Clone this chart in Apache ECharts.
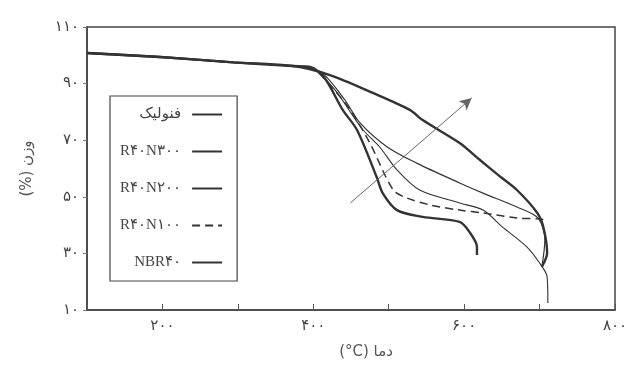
<!DOCTYPE html>
<html>
<head>
<meta charset="utf-8">
<script src="https://cdn.jsdelivr.net/npm/echarts@6/dist/echarts.min.js"></script>
<style>
  html, body { margin: 0; padding: 0; background: #fff; }
  #main { width: 636px; height: 366px; }
</style>
</head>
<body>
<div id="main"></div>
<script>
// TGA curves: [temperature (C), weight (%)]
var phenolic = [[100, 100.8], [197, 99.4], [294, 97.5], [373, 96.2], [422, 93.0], [479, 86.7],
  [528, 80.7], [545, 77.1], [594, 69.0], [621, 63.0], [647, 57.3], [670, 52.4], [697, 44.3],
  [705, 39.3], [710, 30.1], [703, 25.2]];
var r40n300 = [[100, 100.8], [197, 99.4], [294, 97.5], [373, 96.2], [396, 95.5], [415, 93.0],
  [442, 84.2], [462, 76.1], [498, 67.6], [537, 61.9], [594, 54.9], [625, 51.3], [670, 46.4],
  [698, 42.5], [707, 34.7], [703, 25.2]];
var r40n200 = [[100, 100.8], [197, 99.4], [294, 97.5], [373, 96.2], [402, 94.8], [429, 87.7],
  [449, 80.0], [466, 73.6], [488, 67.6], [511, 59.5], [541, 52.4], [594, 47.8], [625, 45.3],
  [651, 39.3], [683, 32.3], [700, 26.6], [710, 21.7], [711, 12.5]];
var r40n100 = [[100, 100.8], [197, 99.4], [294, 97.5], [373, 96.2], [398, 95.5], [422, 89.5],
  [449, 80.7], [475, 69.0], [506, 52.4], [524, 49.6], [555, 47.1], [594, 45.3], [625, 44.3],
  [670, 42.5], [700, 42.2], [707, 41.8]];
var nbr40 = [[100, 100.8], [197, 99.4], [294, 97.5], [373, 96.2], [396, 95.9], [415, 92.0],
  [439, 80.7], [458, 73.6], [484, 57.0], [492, 51.3], [511, 45.3], [545, 42.9], [594, 41.1],
  [608, 37.2], [617, 32.3], [617, 29.4]];

var seriesNames = ['فنولیک', 'R۴۰N۳۰۰', 'R۴۰N۲۰۰', 'R۴۰N۱۰۰', 'NBR۴۰'];
var arrowFrom = [449, 47.8];
var arrowTo = [610, 84.9];

var xMin = 100, xMax = 800, xStep = 100;
var yMin = 10, yMax = 110, yStep = 20;

var faDigits = '۰۱۲۳۴۵۶۷۸۹';
function toFa(n) {
  return String(n).replace(/[0-9]/g, function (d) { return faDigits[+d]; });
}

var chart = echarts.init(document.getElementById('main'));
var ink = '#333';

function curve(name, data, width, type) {
  return {
    name: name,
    type: 'line',
    data: data,
    symbol: 'none',
    showSymbol: false,
    smooth: 0.3,
    lineStyle: { color: ink, width: width, type: type || 'solid' },
    itemStyle: { color: ink }
  };
}

var series = [
  curve(seriesNames[0], phenolic, 2.4),
  curve(seriesNames[1], r40n300, 1.2),
  curve(seriesNames[2], r40n200, 1.1),
  curve(seriesNames[3], r40n100, 1.5, [8, 5]),
  curve(seriesNames[4], nbr40, 2.4)
];
series[0].markLine = {
  silent: true,
  symbol: ['none', 'arrow'],
  symbolSize: [9, 12],
  label: { show: false },
  lineStyle: { color: '#666', width: 1, type: 'solid' },
  data: [[{ coord: arrowFrom }, { coord: arrowTo }]]
};

chart.setOption({
  backgroundColor: '#fff',
  animation: false,
  textStyle: { fontFamily: 'DejaVu Sans' },
  grid: {
    left: 87, right: 21, top: 27, bottom: 56,
    show: true, borderColor: '#444', borderWidth: 1.5
  },
  legend: {
    orient: 'vertical',
    left: 110, top: 96,
    align: 'right',
    padding: [11, 14, 11, 10],
    itemGap: 22,
    itemWidth: 30,
    itemHeight: 14,
    borderColor: '#444',
    borderWidth: 1.2,
    backgroundColor: '#fff',
    itemStyle: { opacity: 0 },
    textStyle: { fontFamily: 'Liberation Serif, DejaVu Sans', fontSize: 15, color: '#444', padding: [0, 6, 0, 0] },
    data: seriesNames
  },
  xAxis: {
    type: 'value',
    min: xMin, max: xMax, interval: xStep,
    name: '(°C) دما',
    nameLocation: 'middle',
    nameGap: 35,
    nameTextStyle: { fontSize: 15, color: '#555', fontFamily: 'DejaVu Sans', padding: [0, 0, 0, 30] },
    axisLine: { lineStyle: { color: '#444', width: 1.5 } },
    axisTick: { inside: true, length: 6, lineStyle: { color: '#555' } },
    splitLine: { show: false },
    axisLabel: {
      margin: 9,
      fontSize: 15,
      color: '#444',
      formatter: function (v) { return v % 200 === 0 && v > xMin ? toFa(v) : ''; }
    }
  },
  yAxis: {
    type: 'value',
    min: yMin, max: yMax, interval: yStep,
    name: '(%) وزن',
    nameLocation: 'middle',
    nameRotate: 90,
    nameGap: 52,
    nameTextStyle: { fontSize: 15, color: '#555', fontFamily: 'DejaVu Sans' },
    axisLine: { lineStyle: { color: '#444', width: 1.5 } },
    axisTick: { inside: false, length: 4, lineStyle: { color: '#777' } },
    splitLine: { show: false },
    axisLabel: {
      margin: 8,
      fontSize: 15,
      color: '#444',
      formatter: function (v) { return toFa(v); }
    }
  },
  series: series
});
</script>
</body>
</html>
